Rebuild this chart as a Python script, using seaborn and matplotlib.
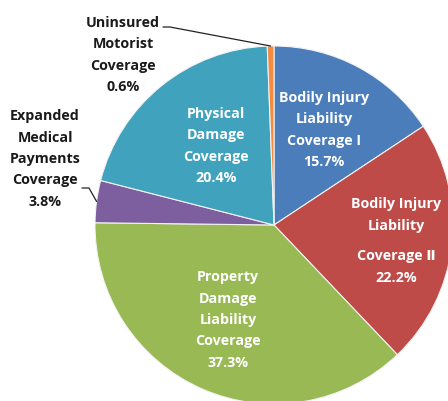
# Auto insurance coverage share - pie chart
import matplotlib
matplotlib.use("Agg")
import matplotlib.pyplot as plt
import seaborn as sns
import numpy as np

# Data
coverages = [
    "Bodily Injury\nLiability\nCoverage I",
    "Bodily Injury\nLiability\nCoverage \u2161",
    "Property\nDamage\nLiability\nCoverage",
    "Expanded\nMedical\nPayments\nCoverage",
    "Physical\nDamage\nCoverage",
    "Uninsured\nMotorist\nCoverage",
]
shares = [15.7, 22.2, 37.3, 3.8, 20.4, 0.6]
colors = ["#4A7DBA", "#BE4B48", "#98B954", "#7D5FA0", "#40A2BD", "#F58B3F"]

sns.set_theme(style="white")
plt.rcParams["font.family"] = ["Open Sans", "DejaVu Sans"]

# pie centre ~ (274, 226) px, radius ~179 px
cx, cy, r = 274, 226, 179
W, H = 448, 402

fig = plt.figure(figsize=(W / 100, H / 100), dpi=100)
ax = fig.add_axes([0, 0, 1, 1])
wedges, _ = ax.pie(shares, colors=colors, startangle=90, counterclock=False,
                   wedgeprops=dict(edgecolor="#f2f2f2", linewidth=0.8))
ax.set_xlim(-cx / r, (W - cx) / r)
ax.set_ylim(-(H - cy) / r, cy / r)
ax.set_aspect("equal")
ax.axis("off")


def px(x, y):
    return (x - cx) / r, (cy - y) / r


# label centres in pixels (inside labels white, outside black)
label_pos = [(324, 130), (396, 241), (228, 320), (45, 159), (216, 146), (123, 55)]
inside = [True, True, True, False, True, False]
style = dict(ha="center", va="center", fontsize=10.3, fontweight="bold", linespacing=1.68)

for i, (name, val, (lx, ly), ins) in enumerate(zip(coverages, shares, label_pos, inside)):
    col = "white" if ins else "#1a1a1a"
    lines = name.split("\n") + [f"{val}%"]
    if i == 1:
        # the roman numeral line sits a little lower
        ax.text(*px(lx, 215), "\n".join(lines[:2]), color=col, **style)
        ax.text(*px(lx, 267), "\n".join(lines[2:]), color=col, **style)
    else:
        ax.text(*px(lx, ly), "\n".join(lines), color=col, **style)

# leader lines for the small slices
for i, start in [(5, (163, 28)), (3, (82, 189))]:
    w = wedges[i]
    mid = np.deg2rad((w.theta1 + w.theta2) / 2)
    ex, ey = np.cos(mid), np.sin(mid)
    sx, sy = px(*start)
    kx, ky = px(start[0] + 7, start[1])
    ax.plot([sx, kx, ex], [sy, ky, ey], color="#222222", lw=0.9)

plt.savefig("out.png", dpi=100)
